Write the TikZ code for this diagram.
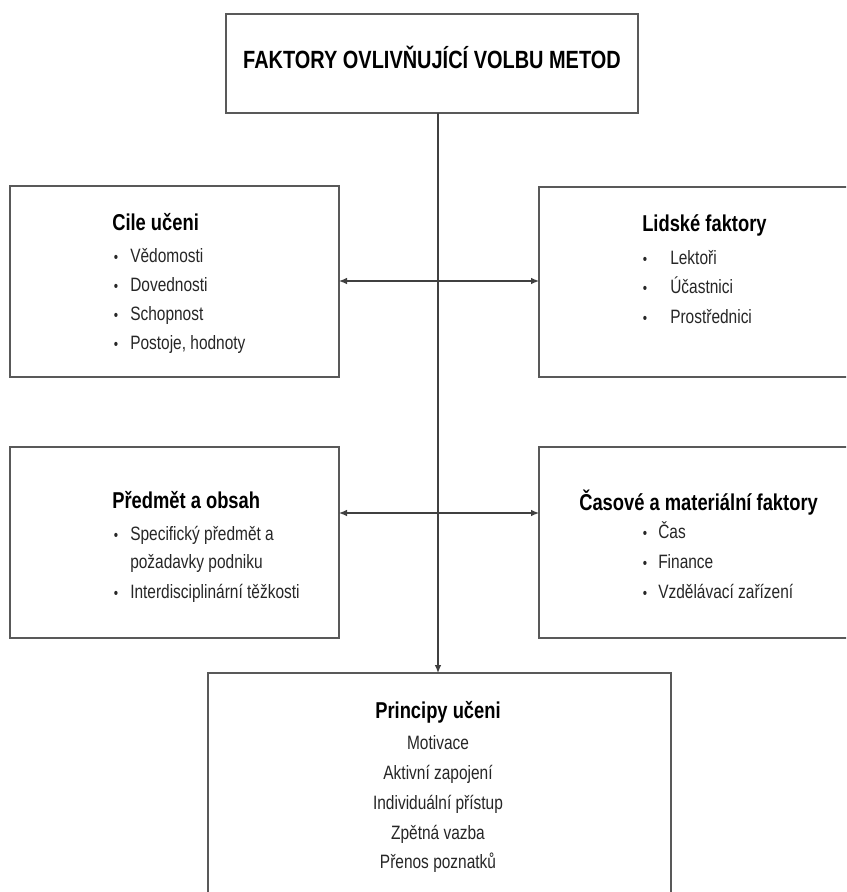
\documentclass[tikz,border=0pt]{standalone}
\usepackage{fontspec}
\setmainfont{Liberation Sans}[FakeStretch=0.8]
\usetikzlibrary{arrows.meta}
\begin{document}
\begin{tikzpicture}[x=0.75pt,y=-0.75pt,
  box/.style={draw=black!65, line width=1.1pt, fill=white, inner sep=0pt, outer sep=0pt},
  ttl/.style={font=\fontsize{18.7}{22}\selectfont\bfseries, inner sep=0pt, anchor=base},
  hd/.style={font=\fontsize{17.2}{20}\selectfont\bfseries, inner sep=0pt, anchor=base west},
  hdc/.style={font=\fontsize{17.2}{20}\selectfont\bfseries, inner sep=0pt, anchor=base},
  itm/.style={font=\fontsize{14.5}{17}\selectfont, inner sep=0pt, anchor=base west, text=black!85},
  itc/.style={font=\fontsize{14.5}{17}\selectfont, inner sep=0pt, anchor=base, text=black!85},
  bul/.style={font=\fontsize{11.5}{13}\selectfont, inner sep=0pt, anchor=base, text=black!85},
  conn/.style={draw=black!75, line width=0.9pt},
  tipa/.style={-{Latex[length=6pt,width=5pt]}},
  tipb/.style={{Latex[length=6pt,width=5pt]}-{Latex[length=6pt,width=5pt]}}
]
\useasboundingbox (0,0) rectangle (846,892);
\fill[white] (0,0) rectangle (846,892);
\begin{scope}
\clip (0,0) rectangle (846,892);
% boxes
\node[box, minimum width=412*0.75pt, minimum height=99*0.75pt] (title) at (432,63.5) {};
\node[box, minimum width=329*0.75pt, minimum height=191*0.75pt] (cile) at (174.5,281.5) {};
\node[box, minimum width=361*0.75pt, minimum height=190*0.75pt] (lid) at (719.5,282) {};
\node[box, minimum width=329*0.75pt, minimum height=191*0.75pt] (pred) at (174.5,542.5) {};
\node[box, minimum width=361*0.75pt, minimum height=191*0.75pt] (cas) at (719.5,542.5) {};
\node[box, minimum width=463*0.75pt, minimum height=277*0.75pt] (princ) at (439.5,811.5) {};
% connectors
\coordinate (vtop) at (438,113);
\coordinate (r1) at (438,281);
\coordinate (r2) at (438,513);
\draw[conn,tipa] (vtop) -- (vtop |- princ.north);
\draw[conn,tipb] (r1 -| cile.east) -- (r1 -| lid.west);
\draw[conn,tipb] (r2 -| pred.east) -- (r2 -| cas.west);
\end{scope}
% title
\node[ttl] (t0) at (432,69) {FAKTORY OVLIVŇUJÍCÍ VOLBU METOD};
% Cile uceni
\node[hd] (c0) at (112,230) {Cile učeni};
\node[bul] (cb1) at (116,262) {\textbullet};
\node[bul] (cb2) at (116,291) {\textbullet};
\node[bul] (cb3) at (116,320) {\textbullet};
\node[bul] (cb4) at (116,349) {\textbullet};
\node[itm] (c1) at (130,262) {Vědomosti};
\node[itm] (c2) at (130,291) {Dovednosti};
\node[itm] (c3) at (130,320) {Schopnost};
\node[itm] (c4) at (130,349) {Postoje, hodnoty};
% Lidske faktory
\node[hd] (l0) at (642,231) {Lidské faktory};
\node[bul] (lb1) at (645,264) {\textbullet};
\node[bul] (lb2) at (645,293) {\textbullet};
\node[bul] (lb3) at (645,323) {\textbullet};
\node[itm] (l1) at (670,264) {Lektoři};
\node[itm] (l2) at (670,293) {Účastnici};
\node[itm] (l3) at (670,323) {Prostřednici};
% Predmet a obsah
\node[hd] (p0) at (112,508) {Předmět a obsah};
\node[bul] (pb1) at (116,540) {\textbullet};
\node[bul] (pb3) at (116,598) {\textbullet};
\node[itm] (p1) at (130,540) {Specifický předmět a};
\node[itm] (p2) at (130,568) {požadavky podniku};
\node[itm] (p3) at (130,598) {Interdisciplinární těžkosti};
% Casove a materialni faktory
\node[hd] (k0) at (579,510) {Časové a materiální faktory};
\node[bul] (kb1) at (645,538) {\textbullet};
\node[bul] (kb2) at (645,568) {\textbullet};
\node[bul] (kb3) at (645,598) {\textbullet};
\node[itm] (k1) at (658,538) {Čas};
\node[itm] (k2) at (658,568) {Finance};
\node[itm] (k3) at (658,598) {Vzdělávací zařízení};
% Principy uceni
\node[hdc] (q0) at (438,718) {Principy učeni};
\node[itc] (q1) at (438,749) {Motivace};
\node[itc] (q2) at (438,779) {Aktivní zapojení};
\node[itc] (q3) at (438,809) {Individuální přístup};
\node[itc] (q4) at (438,839) {Zpětná vazba};
\node[itc] (q5) at (438,868) {Přenos poznatků};
\end{tikzpicture}
\end{document}
